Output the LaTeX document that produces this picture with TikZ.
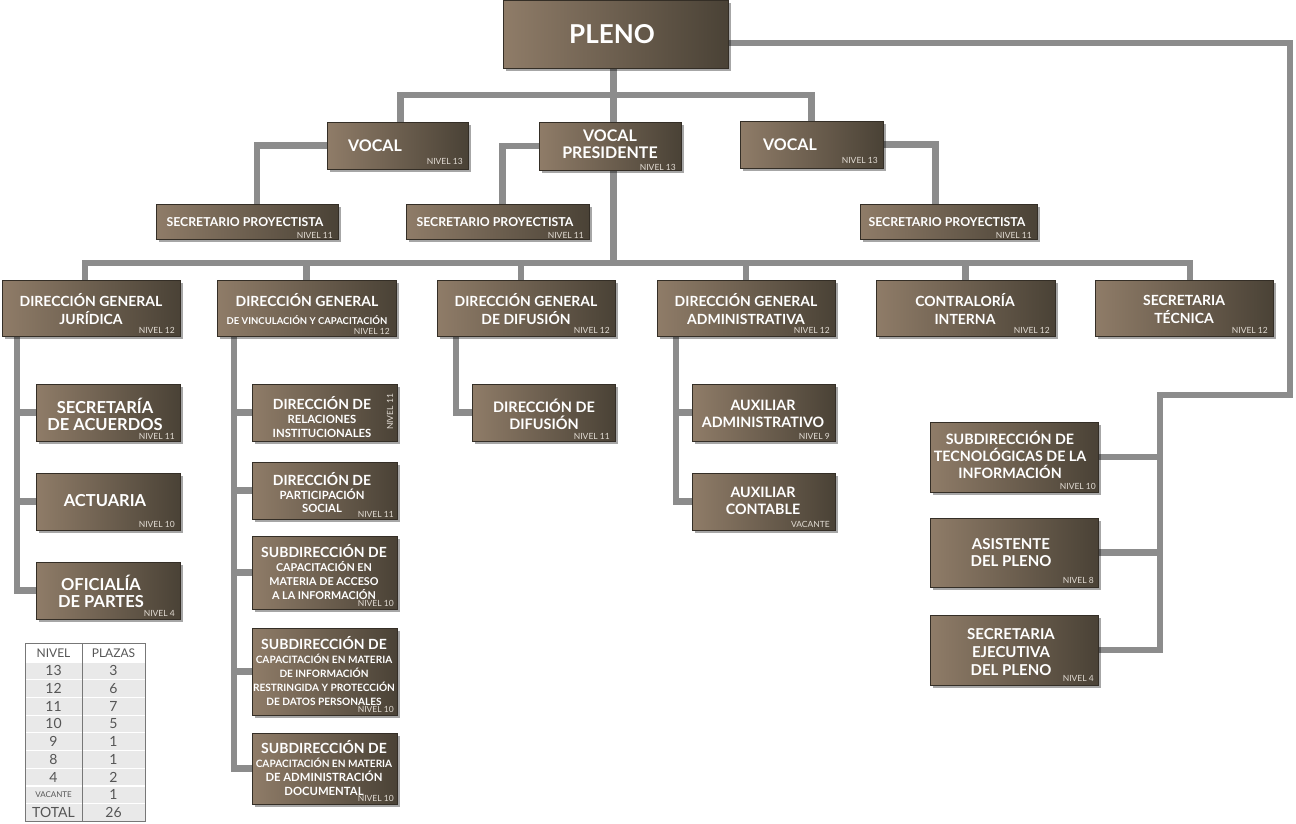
\documentclass[tikz,border=0pt]{standalone}
\usepackage{fontspec}
\setmainfont{Lato}
\usetikzlibrary{shadows,calc}

\definecolor{boxL}{HTML}{8F7C68}
\definecolor{boxR}{HTML}{4A4236}
\definecolor{wire}{HTML}{8C8C8C}
\definecolor{lvltext}{HTML}{E2DCD4}
\definecolor{tabtext}{HTML}{555555}
\definecolor{tabrow}{HTML}{E9E9E9}

\pgfdeclarelayer{paper}
\pgfdeclarelayer{wires}
\pgfsetlayers{paper,wires,main}

\tikzset{
  box/.style={rectangle, inner sep=0pt, left color=boxL, right color=boxR,
    draw=boxR!70!black, line width=0.5pt,
    drop shadow={shadow xshift=2.5pt, shadow yshift=-2.5pt, opacity=0.35, fill=black}},
  conn/.style={draw=wire, line width=6.5pt},
  ttl/.style={text=white, font=\bfseries, align=center, inner sep=0pt},
  lvl/.style={text=lvltext, font=\fontsize{8.5}{8.5}\selectfont, inner sep=0pt, anchor=base east},
  tab/.style={text=tabtext, inner sep=0pt, font=\fontsize{14}{14}\selectfont},
}

% box from its two corners (pixel-like units, y downwards)
\newcommand{\orgbox}[5]{%
  \node[box, minimum width={#4-#2}, minimum height={#5-#3}] (#1) at ({(#2+#4)/2},{(#3+#5)/2}) {};}

\begin{document}
\begin{tikzpicture}[x=1pt,y=-1pt]
\begin{pgfonlayer}{paper}
  \fill[white] (0,0) rectangle (1296,823);
\end{pgfonlayer}
\useasboundingbox (0,0) rectangle (1296,823);

% ---------- boxes ----------
\orgbox{pleno}{503}{0}{728}{68}
\orgbox{vl}{327}{122}{468}{169}
\orgbox{vp}{539}{122}{681}{170}
\orgbox{vr}{740}{121}{883}{168}
\orgbox{spl}{156}{204}{338}{239}
\orgbox{spm}{406}{204}{589}{239}
\orgbox{spr}{860}{204}{1037}{239}
\orgbox{dg1}{2}{280}{180}{336}
\orgbox{dg2}{217}{280}{396}{336}
\orgbox{dg3}{437}{280}{615}{336}
\orgbox{dg4}{657}{280}{835}{336}
\orgbox{dg5}{876}{280}{1055}{336}
\orgbox{dg6}{1095}{280}{1273}{336}
\orgbox{sac}{36}{384}{180}{441}
\orgbox{act}{36}{473}{180}{530}
\orgbox{ofi}{36}{562}{180}{619}
\orgbox{rel}{252}{384}{397}{441}
\orgbox{par}{252}{462}{397}{519}
\orgbox{sacc}{252}{536}{397}{609}
\orgbox{sres}{252}{628}{397}{715}
\orgbox{sadm}{252}{733}{397}{804}
\orgbox{dif}{472}{384}{615}{441}
\orgbox{aux1}{692}{384}{835}{441}
\orgbox{aux2}{692}{473}{835}{530}
\orgbox{stec}{930}{422}{1098}{492}
\orgbox{asis}{930}{518}{1098}{587}
\orgbox{sej}{930}{615}{1098}{685}

% ---------- titles ----------
\node[ttl, font=\bfseries\fontsize{26}{26}\selectfont] (tpleno) at (612,34) {PLENO};
\node[ttl, font=\bfseries\fontsize{16}{17.5}\selectfont] (tvl) at (375,146) {VOCAL};
\node[ttl, font=\bfseries\fontsize{16}{17.5}\selectfont] (tvp) at (610,144) {VOCAL\\PRESIDENTE};
\node[ttl, font=\bfseries\fontsize{16}{17.5}\selectfont] (tvr) at (790,145) {VOCAL};
\node[ttl, font=\bfseries\fontsize{12.3}{14}\selectfont] (tspl) at (245,222) {SECRETARIO PROYECTISTA};
\node[ttl, font=\bfseries\fontsize{12.3}{14}\selectfont] (tspm) at (495,222) {SECRETARIO PROYECTISTA};
\node[ttl, font=\bfseries\fontsize{12.3}{14}\selectfont] (tspr) at (947,222) {SECRETARIO PROYECTISTA};

\node[ttl, font=\bfseries\fontsize{14}{18}\selectfont] (tdg1) at (91,309) {DIRECCIÓN GENERAL\\JURÍDICA};
\node[ttl, font=\bfseries\fontsize{14}{17}\selectfont] (tdg2a) at (307,300) {DIRECCIÓN GENERAL};
\node[ttl, font=\bfseries\fontsize{9.5}{11}\selectfont] (tdg2b) at (307,320) {DE VINCULACIÓN Y CAPACITACIÓN};
\node[ttl, font=\bfseries\fontsize{14}{18}\selectfont] (tdg3) at (526,309) {DIRECCIÓN GENERAL\\DE DIFUSIÓN};
\node[ttl, font=\bfseries\fontsize{14}{18}\selectfont] (tdg4) at (746,309) {DIRECCIÓN GENERAL\\ADMINISTRATIVA};
\node[ttl, font=\bfseries\fontsize{14}{18}\selectfont] (tdg5) at (965,309) {CONTRALORÍA\\INTERNA};
\node[ttl, font=\bfseries\fontsize{14}{18}\selectfont] (tdg6) at (1184,309) {SECRETARIA\\TÉCNICA};

\node[ttl, font=\bfseries\fontsize{16.5}{17}\selectfont] (tsac) at (105,414) {SECRETARÍA\\DE ACUERDOS};
\node[ttl, font=\bfseries\fontsize{16.5}{17}\selectfont] (tact) at (105,501) {ACTUARIA};
\node[ttl, font=\bfseries\fontsize{16.5}{17}\selectfont] (tofi) at (101,591) {OFICIALÍA\\DE PARTES};

\node[ttl, font=\bfseries\fontsize{11.3}{14}\selectfont] (trel) at (322,417)
  {{\fontsize{14}{14}\selectfont DIRECCIÓN DE}\\RELACIONES\\INSTITUCIONALES};
\node[ttl, font=\bfseries\fontsize{11.3}{13.5}\selectfont] (tpar) at (322,493)
  {{\fontsize{14}{13.5}\selectfont DIRECCIÓN DE}\\PARTICIPACIÓN\\SOCIAL};
\node[ttl, font=\bfseries\fontsize{10.8}{14}\selectfont] (tsacc) at (324,572)
  {{\fontsize{14}{14}\selectfont SUBDIRECCIÓN DE}\\CAPACITACIÓN EN\\MATERIA DE ACCESO\\A LA INFORMACIÓN};
\node[ttl, font=\bfseries\fontsize{10.1}{14}\selectfont] (tsres) at (324,671)
  {{\fontsize{14}{14}\selectfont SUBDIRECCIÓN DE}\\CAPACITACIÓN EN MATERIA\\DE INFORMACIÓN\\RESTRINGIDA Y PROTECCIÓN\\DE DATOS PERSONALES};
\node[ttl, font=\bfseries\fontsize{10.1}{14}\selectfont] (tsadm) at (324,768)
  {{\fontsize{14}{14}\selectfont SUBDIRECCIÓN DE}\\CAPACITACIÓN EN MATERIA\\{\fontsize{11.3}{14}\selectfont DE ADMINISTRACIÓN}\\{\fontsize{11.3}{14}\selectfont DOCUMENTAL}};

\node[ttl, font=\bfseries\fontsize{14.5}{17}\selectfont] (tdif) at (544,414) {DIRECCIÓN DE\\DIFUSIÓN};
\node[ttl, font=\bfseries\fontsize{14.3}{17}\selectfont] (taux1) at (763,414) {AUXILIAR\\ADMINISTRATIVO};
\node[ttl, font=\bfseries\fontsize{14.3}{17}\selectfont] (taux2) at (763,501) {AUXILIAR\\CONTABLE};

\node[ttl, font=\bfseries\fontsize{14.3}{17}\selectfont] (tstec) at (1010,455) {SUBDIRECCIÓN DE\\TECNOLÓGICAS DE LA\\INFORMACIÓN};
\node[ttl, font=\bfseries\fontsize{15}{17}\selectfont] (tasis) at (1011,553) {ASISTENTE\\DEL PLENO};
\node[ttl, font=\bfseries\fontsize{15}{18}\selectfont] (tsej) at (1011,652) {SECRETARIA\\EJECUTIVA\\DEL PLENO};

% ---------- level labels ----------
\node[lvl] (lvl) at (463,164) {NIVEL 13};
\node[lvl] (lvp) at (676,170) {NIVEL 13};
\node[lvl] (lvr) at (878,163) {NIVEL 13};
\node[lvl] (lspl) at (333,238) {NIVEL 11};
\node[lvl] (lspm) at (584,238) {NIVEL 11};
\node[lvl] (lspr) at (1032,238) {NIVEL 11};
\node[lvl] (ldg1) at (175,333) {NIVEL 12};
\node[lvl] (ldg2) at (390,334) {NIVEL 12};
\node[lvl] (ldg3) at (610,333) {NIVEL 12};
\node[lvl] (ldg4) at (830,333) {NIVEL 12};
\node[lvl] (ldg5) at (1050,333) {NIVEL 12};
\node[lvl] (ldg6) at (1268,333) {NIVEL 12};
\node[lvl] (lsac) at (175,439) {NIVEL 11};
\node[lvl] (lact) at (175,527) {NIVEL 10};
\node[lvl] (lofi) at (175,616) {NIVEL 4};
\node[lvl, anchor=center, rotate=90] (lrel) at (390,412) {NIVEL 11};
\node[lvl] (lpar) at (394,517) {NIVEL 11};
\node[lvl] (lsacc) at (394,606) {NIVEL 10};
\node[lvl] (lsres) at (394,712) {NIVEL 10};
\node[lvl] (lsadm) at (394,801) {NIVEL 10};
\node[lvl] (ldif) at (610,439) {NIVEL 11};
\node[lvl] (laux1) at (830,439) {NIVEL 9};
\node[lvl] (laux2) at (830,527) {VACANTE};
\node[lvl] (lstec) at (1096,489) {NIVEL 10};
\node[lvl] (lasis) at (1094,583) {NIVEL 8};
\node[lvl] (lsej) at (1094,681) {NIVEL 4};

% ---------- connectors ----------
\coordinate (busv) at (0,95);
\coordinate (busdg) at (0,263);
\coordinate (ra) at (1290,395);
\coordinate (rb) at (1160,395);
\coordinate (d1top) at ([xshift=-6pt]dg1.north);
\coordinate (d3top) at ([xshift=-5pt]dg3.north);
\coordinate (d6top) at ([xshift=6pt]dg6.north);
\coordinate (jx) at ($(dg1.south west)+(15,0)$);
\coordinate (vx) at ($(dg2.south west)+(17,0)$);
\coordinate (fx) at ($(dif.west -| dg3.south west)+(19,0)$);
\coordinate (ax) at ($(dg4.south west)+(19,0)$);

\begin{pgfonlayer}{wires}
  % pleno to vocales
  \draw[conn] ([xshift=3pt]vl.north) |- (busv -| vr.north) -- (vr.north);
  \draw[conn] ([xshift=-2pt]pleno.south) -- ([xshift=-2pt]pleno.south |- busdg);
  % vocales to secretarios proyectistas
  \draw[conn] (vl.west) -| ([xshift=10pt]spl.north);
  \draw[conn] (vp.west) -| ([xshift=5pt]spm.north);
  \draw[conn] (vr.east) -| ([xshift=-13pt]spr.north);
  % bus of the general directions
  \draw[conn] (d1top) |- (busdg -| d6top) -- (d6top);
  \draw[conn] (dg2.north) -- (dg2.north |- busdg);
  \draw[conn] (d3top) -- (d3top |- busdg);
  \draw[conn] (dg4.north) -- (dg4.north |- busdg);
  \draw[conn] (dg5.north) -- (dg5.north |- busdg);
  % jurídica
  \draw[conn] (jx) |- (ofi.west);
  \draw[conn] (sac.west -| jx) -- (sac.west);
  \draw[conn] (act.west -| jx) -- (act.west);
  % vinculación
  \draw[conn] (vx) |- (sadm.west);
  \draw[conn] (rel.west -| vx) -- (rel.west);
  \draw[conn] (par.west -| vx) -- (par.west);
  \draw[conn] (sacc.west -| vx) -- (sacc.west);
  \draw[conn] (sres.west -| vx) -- (sres.west);
  % difusión
  \draw[conn] (dg3.south -| fx) |- (dif.west);
  % administrativa
  \draw[conn] (ax) |- (aux2.west);
  \draw[conn] (aux1.west -| ax) -- (aux1.west);
  % pleno to its own staff
  \draw[conn] ([yshift=-9pt]pleno.east) -| (ra) -- (rb) |- (sej.east);
  \draw[conn] (stec.east) -- (stec.east -| rb);
  \draw[conn] (asis.east) -- (asis.east -| rb);
\end{pgfonlayer}

% ---------- table of levels ----------
\foreach \i in {0,...,8} {
  \fill[tabrow] (25,{662+\i*17.7}) rectangle (145,{662+(\i+1)*17.7});
  \draw[white, line width=1.2pt] (25,{662+\i*17.7}) -- (145,{662+\i*17.7});
}
\draw[tabtext!80, line width=1pt] (25,643) rectangle (145,821.3);
\draw[tabtext!80, line width=1pt] (82,643) -- (82,821.3);
\node[tab, font=\fontsize{12}{12}\selectfont] (hn) at (53.5,653) {NIVEL};
\node[tab, font=\fontsize{12}{12}\selectfont] (hp) at (113.5,653) {PLAZAS};
\foreach \lv/\pl [count=\k from 0] in {13/3,12/6,11/7,10/5,9/1,8/1,4/2} {
  \node[tab] (nv\k) at (53.5,{662+(\k+0.5)*17.7}) {\lv};
  \node[tab] (pl\k) at (113.5,{662+(\k+0.5)*17.7}) {\pl};
}
\node[tab, font=\fontsize{8}{8}\selectfont] (nvac) at (53.5,{662+7.5*17.7}) {VACANTE};
\node[tab] (pvac) at (113.5,{662+7.5*17.7}) {1};
\node[tab] (ntot) at (53.5,{662+8.5*17.7}) {TOTAL};
\node[tab] (ptot) at (113.5,{662+8.5*17.7}) {26};

\end{tikzpicture}
\end{document}
